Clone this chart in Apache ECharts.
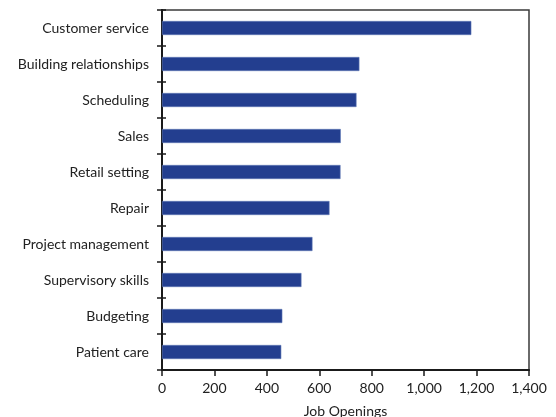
<!DOCTYPE html>
<html>
<head>
<meta charset="utf-8">
<script src="https://cdn.jsdelivr.net/npm/echarts@6/dist/echarts.min.js"></script>
<style>
  html, body { margin: 0; padding: 0; background: #fff; }
  #chart { width: 556px; height: 417px; }
</style>
</head>
<body>
<div id="chart"></div>
<script>
// Skills listed in job openings, top to bottom
const categories = [
  'Customer service',
  'Building relationships',
  'Scheduling',
  'Sales',
  'Retail setting',
  'Repair',
  'Project management',
  'Supervisory skills',
  'Budgeting',
  'Patient care'
];
const openings = [1180, 753, 742, 682, 681, 639, 574, 532, 459, 455];
const xTicks = { min: 0, max: 1400, step: 200 };

const FONT = 'Lato, "Open Sans", sans-serif';
const chart = echarts.init(document.getElementById('chart'));

const baseY = {
  type: 'category',
  data: categories,
  inverse: true,
  axisLine: { show: true, lineStyle: { color: '#1a1a1a', width: 2 } },
  splitLine: { show: false }
};

chart.setOption({
  animation: false,
  grid: {
    left: 162, right: 27, top: 10, bottom: 47,
    show: true, borderColor: '#3a3a3a', borderWidth: 1.5,
    containLabel: false,
    outerBoundsMode: 'none'
  },
  xAxis: {
    type: 'value',
    min: xTicks.min, max: xTicks.max, interval: xTicks.step,
    name: 'Job Openings',
    nameLocation: 'middle',
    nameGap: 34,
    nameTextStyle: { fontFamily: FONT, fontSize: 14, color: '#222', verticalAlign: 'top' },
    axisLine: { show: true, lineStyle: { color: '#1a1a1a', width: 2 } },
    axisTick: { show: true, length: 6, lineStyle: { color: '#1a1a1a', width: 1.5 } },
    axisLabel: {
      fontFamily: FONT, fontSize: 14, color: '#222', margin: 11,
      formatter: v => v.toLocaleString('en-US')
    },
    splitLine: { show: false }
  },
  yAxis: [
    Object.assign({}, baseY, {
      axisTick: { show: true, length: 5, lineStyle: { color: '#1a1a1a', width: 1.5 } },
      axisLabel: { fontFamily: FONT, fontSize: 14, color: '#222', margin: 13 }
    }),
    Object.assign({}, baseY, {
      position: 'left',
      axisTick: { show: true, inside: true, length: 4, lineStyle: { color: '#1a1a1a', width: 1.5 } },
      axisLabel: { show: false }
    })
  ],
  series: [{
    type: 'bar',
    data: openings,
    barWidth: 14,
    itemStyle: { color: '#233E8F', borderColor: '#5f78b6', borderWidth: 0.6 }
  }]
});
</script>
</body>
</html>
